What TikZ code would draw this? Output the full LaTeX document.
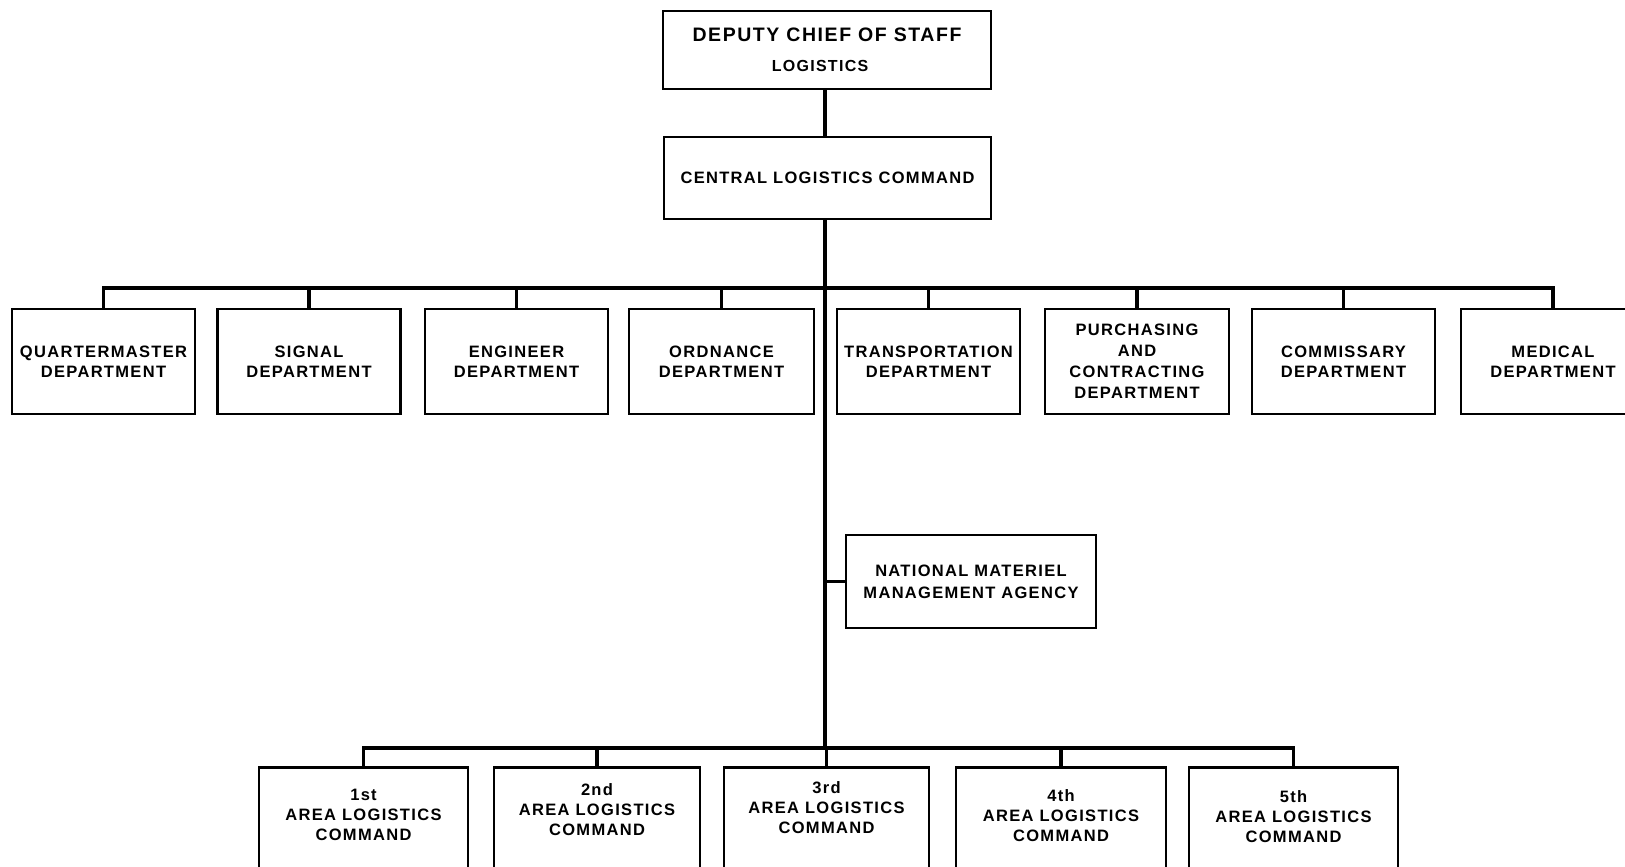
\documentclass[tikz,border=0pt]{standalone}
\usepackage{fontspec}
\setmainfont{Liberation Sans}[LetterSpace=8]
\begin{document}
\begin{tikzpicture}[x=1pt,y=-1pt,
  box/.style={draw, line width=2.5pt, rectangle, align=center, inner sep=0pt,
    font=\fontsize{16.5}{20}\selectfont\bfseries},
  dept/.style={box, minimum width=183pt, minimum height=105pt},
  area/.style={box, minimum height=108pt, anchor=north},
  conn/.style={line width=3.4pt}]
\useasboundingbox (0,0) rectangle (1625,867);
\clip (0,0) rectangle (1625,867);
\fill[white] (0,0) rectangle (1625,867);
% top boxes
\node[box, minimum width=328pt, minimum height=78pt, font=\fontsize{19.5}{30}\selectfont\bfseries] (dcs) at (827,50)
  {DEPUTY CHIEF OF STAFF\\{\fontsize{16}{30}\selectfont LOGISTICS\hspace*{14pt}}};
\node[box, minimum width=327pt, minimum height=82pt] (clc) at (827.5,178)
  {CENTRAL LOGISTICS COMMAND};
% departments
\node[dept] (qm)  at (103.5,361.5) {QUARTERMASTER\\DEPARTMENT};
\node[dept] (sig) at (309,361.5) {SIGNAL\\DEPARTMENT};
\node[dept] (eng) at (516.5,361.5) {ENGINEER\\DEPARTMENT};
\node[dept, minimum width=185pt] (ord) at (721.5,361.5) {ORDNANCE\\DEPARTMENT};
\node[dept] (trn) at (928.5,361.5) {TRANSPORTATION\\DEPARTMENT};
\node[dept, minimum width=184pt, font=\fontsize{16.5}{21}\selectfont\bfseries] (pur) at (1137,361.5) {PURCHASING\\AND\\CONTRACTING\\DEPARTMENT};
\node[dept] (com) at (1343.5,361.5) {COMMISSARY\\DEPARTMENT};
\node[dept, minimum width=184pt] (med) at (1553,361.5) {MEDICAL\\DEPARTMENT};
% agency
\node[box, minimum width=250pt, minimum height=93pt, font=\fontsize{16.5}{22}\selectfont\bfseries] (nmma) at (971,581.5)
  {NATIONAL MATERIEL\\MANAGEMENT AGENCY};
% area commands
\node[area, minimum width=209pt, text depth=13.5pt] (a1) at (363.5,766) {1st\\AREA LOGISTICS\\COMMAND};
\node[area, minimum width=206pt, text depth=23.5pt] (a2) at (597,766) {2nd\\AREA LOGISTICS\\COMMAND};
\node[area, minimum width=205pt, text depth=27.5pt] (a3) at (826.5,766) {3rd\\AREA LOGISTICS\\COMMAND};
\node[area, minimum width=210pt, text depth=11.5pt] (a4) at (1061,766) {4th\\AREA LOGISTICS\\COMMAND};
\node[area, minimum width=209pt, text depth=9.5pt] (a5) at (1293.5,766) {5th\\AREA LOGISTICS\\COMMAND};
% bus points
\coordinate (tb) at (825,288);
\coordinate (bb) at (825,748);
\coordinate (nj) at (825,581.5);
% connectors
\draw[conn] (dcs.south -| tb) -- (clc.north -| tb);
\draw[conn] (clc.south -| tb) -- (bb);
\draw[conn] (qm.north) |- (tb) -| (med.north);
\foreach \n in {sig,eng,ord,trn,pur,com} \draw[conn] (\n.north) -- (\n.north |- tb);
\draw[conn] (nj) -- (nmma.west);
\draw[conn] (a1.north) |- (bb) -| (a5.north);
\foreach \n in {a2,a3,a4} \draw[conn] (\n.north) -- (\n.north |- bb);
\end{tikzpicture}
\end{document}
